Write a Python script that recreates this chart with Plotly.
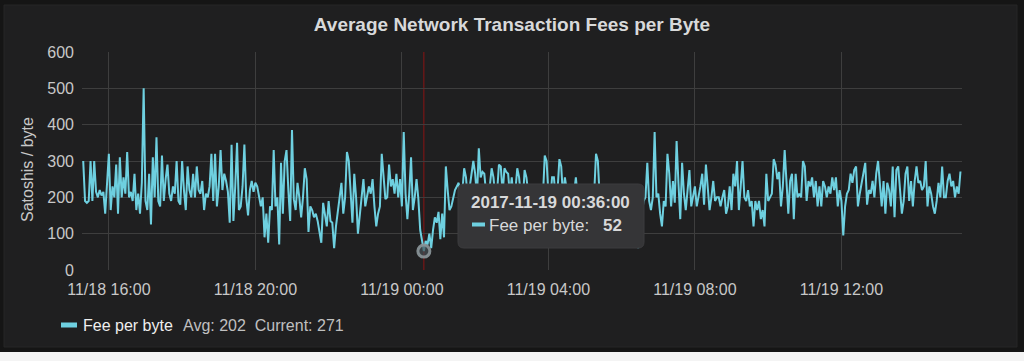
import pandas as pd
import plotly.graph_objects as go

# ---------------- data ----------------
start_time = "2017-11-18 15:18:00"
interval = "3min"

fee_1518_2008 = [
    300, 190, 185, 190, 300, 190, 300, 215, 200, 220,
    205, 215, 155, 230, 320, 165, 230, 200, 290, 155,
    310, 200, 255, 210, 325, 200, 215, 190, 265, 165,
    210, 155, 240, 500, 190, 165, 265, 125, 310, 200,
    365, 190, 175, 315, 190, 250, 290, 210, 190, 230,
    210, 300, 190, 180, 300, 220, 165, 285, 220, 200,
    265, 200, 285, 220, 210, 245, 165, 210, 200, 230,
    320, 190, 320, 175, 230, 330, 220, 265, 245, 215,
    130, 345, 135, 230, 350, 165, 175, 230, 345, 200,
    150, 220, 245, 215, 240, 230, 200,
]
fee_2009_0036 = [
    175, 200, 90, 155, 75, 175, 165, 330, 175, 200,
    70, 295, 155, 300, 330, 220, 135, 385, 195, 165,
    240, 200, 145, 200, 280, 250, 105, 175, 165, 145,
    155, 135, 110, 75, 185, 145, 120, 190, 135, 130,
    60, 120, 155, 200, 240, 155, 200, 325, 300, 200,
    130, 265, 200, 100, 155, 210, 250, 175, 200, 230,
    210, 250, 175, 120, 155, 175, 320, 250, 195, 200,
    290, 230, 250, 210, 265, 200, 250, 175, 380, 210,
    140, 210, 310, 165, 200, 250, 195, 110, 80, 52,
]
fee_0039_0636 = [
    80, 70, 100, 60, 110, 145, 130, 160, 85, 155,
    90, 285, 220, 165, 175, 200, 220, 230, 240, 180,
    215, 280, 255, 190, 225, 255, 300, 265, 200, 335,
    255, 270, 265, 210, 190, 230, 280, 255, 200, 215,
    290, 285, 210, 280, 270, 265, 205, 255, 190, 220,
    280, 255, 200, 185, 275, 255, 210, 195, 225, 180,
    205, 230, 190, 215, 200, 315, 300, 210, 190, 255,
    255, 195, 220, 305, 285, 200, 255, 215, 185, 225,
    200, 210, 255, 195, 170, 215, 200, 230, 180, 200,
    220, 190, 210, 320, 300, 200, 180, 215, 195, 225,
    175, 205, 190, 215, 235, 180, 200, 170, 210, 190,
    160, 200, 185, 140, 200, 175, 60, 120, 150, 190,
]
fee_0639_1051 = [
    200, 295, 190, 165, 200, 380, 200, 210, 155, 120,
    190, 175, 320, 265, 175, 245, 185, 355, 240, 140,
    295, 210, 165, 230, 275, 175, 200, 230, 175, 200,
    230, 265, 180, 290, 230, 165, 200, 245, 190, 200,
    200, 175, 200, 220, 155, 175, 230, 165, 265, 230,
    300, 165, 230, 300, 200, 190, 220, 175, 190, 120,
    190, 165, 190, 140, 165, 120, 265, 190, 200, 210,
    305, 290, 250, 270, 175, 230, 330, 245, 155, 245,
    265, 140, 265, 200, 210,
]
fee_1054_1515 = [
    200, 300, 285, 190, 245, 230, 255, 200, 245, 175,
    230, 175, 245, 230, 200, 230, 210, 255, 220, 255,
    175, 220, 190, 95, 175, 210, 220, 265, 240, 275,
    285, 175, 210, 235, 265, 295, 180, 220, 210, 245,
    200, 265, 300, 230, 175, 245, 155, 240, 220, 175,
    285, 145, 275, 285, 220, 155, 190, 265, 285, 190,
    245, 175, 245, 285, 240, 245, 220, 230, 300, 175,
    230, 210, 175, 155, 190, 240, 200, 285, 200, 200,
    245, 265, 230, 245, 200, 230, 210, 271,
]

fee = fee_1518_2008 + fee_2009_0036 + fee_0039_0636 + fee_0639_1051 + fee_1054_1515
times = pd.date_range(start_time, periods=len(fee), freq=interval)

x_range = ["2017-11-18 15:16:00", "2017-11-19 15:17:30"]
y_ticks = [0, 100, 200, 300, 400, 500, 600]
hover_time = pd.Timestamp("2017-11-19 00:36:00")
hover_idx = list(times).index(hover_time)
hover_value = fee[hover_idx]

title_text = "Average Network Transaction Fees per Byte"
y_title = "Satoshis / byte"
series_name = "Fee per byte"
legend_stats = "Avg: 202  Current: 271"

# ---------------- layout helpers (pixel -> paper) ----------------
L, R, T, B = 82, 62, 52, 91
W, H = 1024, 361
PW, PH = W - L - R, H - T - B


def px(xp):
    return (xp - L) / PW


def py(yp):
    return (H - B - yp) / PH


FONT = "Liberation Sans, Arial, Helvetica, sans-serif"
LINE_COLOR = "#6ed0e0"
TEXT = "#c8c8c8"

fig = go.Figure()
fig.add_trace(go.Scatter(
    x=times, y=fee, mode="lines", name=series_name,
    line=dict(color=LINE_COLOR, width=2), hoverinfo="skip", showlegend=False,
))
fig.add_trace(go.Scatter(
    x=[times[hover_idx]], y=[hover_value], mode="markers", showlegend=False,
    hoverinfo="skip",
    marker=dict(size=12, color="rgba(70,80,85,0.7)",
                line=dict(color="rgba(135,145,150,0.95)", width=3)),
))

shapes = []
shapes.append(dict(type="rect", xref="paper", yref="paper", layer="below",
                   x0=px(4), x1=px(1017), y0=py(347), y1=py(5),
                   fillcolor="#1f1f20", line=dict(color="#262627", width=1)))
shapes.append(dict(type="rect", xref="paper", yref="paper", layer="below",
                   x0=px(-5), x1=px(1030), y0=py(365), y1=py(352),
                   fillcolor="#f4f4f4", line=dict(width=0)))
shapes.append(dict(type="line", xref="x", yref="paper", layer="below",
                   x0=hover_time, x1=hover_time, y0=0, y1=1,
                   line=dict(color="#8a1414", width=1)))

tx0, tx1, ty0, ty1 = px(458), px(644), py(248), py(184)
rx, ry = 6 / PW, 6 / PH
path = (f"M {tx0+rx},{ty1} L {tx1-rx},{ty1} Q {tx1},{ty1} {tx1},{ty1-ry} "
        f"L {tx1},{ty0+ry} Q {tx1},{ty0} {tx1-rx},{ty0} "
        f"L {tx0+rx},{ty0} Q {tx0},{ty0} {tx0},{ty0+ry} "
        f"L {tx0},{ty1-ry} Q {tx0},{ty1} {tx0+rx},{ty1} Z")
shapes.append(dict(type="path", xref="paper", yref="paper", layer="above",
                   path=path, fillcolor="#353537", line=dict(color="#3c3c3e", width=1)))
shapes.append(dict(type="line", xref="paper", yref="paper", layer="above",
                   x0=px(472), x1=px(485), y0=py(224.5), y1=py(224.5),
                   line=dict(color=LINE_COLOR, width=4)))
shapes.append(dict(type="line", xref="paper", yref="paper", layer="above",
                   x0=px(61), x1=px(77), y0=py(325), y1=py(325),
                   line=dict(color=LINE_COLOR, width=5)))

annotations = [
    dict(text=y_title, xref="paper", yref="paper", x=px(27), y=py(170),
         textangle=-90, showarrow=False, xanchor="center", yanchor="middle",
         font=dict(family=FONT, size=16, color=TEXT)),
    dict(text=f"<b>{hover_time.strftime('%Y-%m-%d %H:%M:%S')}</b>", xref="paper", yref="paper",
         x=px(469), y=py(202), showarrow=False, xanchor="left", yanchor="middle",
         font=dict(family=FONT, size=17, color="#d8d9da")),
    dict(text=f"{series_name}:", xref="paper", yref="paper",
         x=px(487), y=py(225), showarrow=False, xanchor="left", yanchor="middle",
         font=dict(family=FONT, size=17, color="#d8d9da")),
    dict(text=f"<b>{hover_value}</b>", xref="paper", yref="paper",
         x=px(601), y=py(225), showarrow=False, xanchor="left", yanchor="middle",
         font=dict(family=FONT, size=17, color="#d8d9da")),
    dict(text=series_name, xref="paper", yref="paper",
         x=px(81), y=py(325), showarrow=False, xanchor="left", yanchor="middle",
         font=dict(family=FONT, size=16, color="#eeeeee")),
    dict(text=legend_stats, xref="paper", yref="paper",
         x=px(181), y=py(325), showarrow=False, xanchor="left", yanchor="middle",
         font=dict(family=FONT, size=16, color="#c0c0c0")),
]

fig.update_layout(
    width=W, height=H, autosize=False,
    margin=dict(l=L, r=R, t=T, b=B, pad=0),
    paper_bgcolor="#151515", plot_bgcolor="rgba(0,0,0,0)",
    title=dict(text=f"<b>{title_text}</b>", xref="container", yref="container",
               x=0.5, y=1 - 24 / H, xanchor="center", yanchor="middle",
               font=dict(family=FONT, size=19, color="#d8d9da")),
    font=dict(family=FONT, size=16, color=TEXT),
    shapes=shapes, annotations=annotations, showlegend=False,
    hovermode=False,
)
fig.update_xaxes(
    type="date", range=x_range, tick0="2017-11-18 16:00:00", dtick=4 * 3600 * 1000,
    tickformat="%m/%d %H:%M", showgrid=True, gridcolor="#3e3e3e", gridwidth=1,
    zeroline=False, showline=False, ticks="", ticklabelstandoff=8,
    tickfont=dict(family=FONT, size=16, color=TEXT), fixedrange=True,
)
fig.update_yaxes(
    range=[0, 600], tickvals=y_ticks, showgrid=True, gridcolor="#3e3e3e", gridwidth=1,
    zeroline=False, showline=False, ticks="", ticklabelstandoff=7,
    tickfont=dict(family=FONT, size=16, color=TEXT), fixedrange=True,
)

fig.write_html(
    "out.html",
    config={"displayModeBar": False, "staticPlot": True},
    post_script="document.body.style.margin='0';document.body.style.background='#151515';"
                "document.documentElement.style.overflow='hidden';",
)
